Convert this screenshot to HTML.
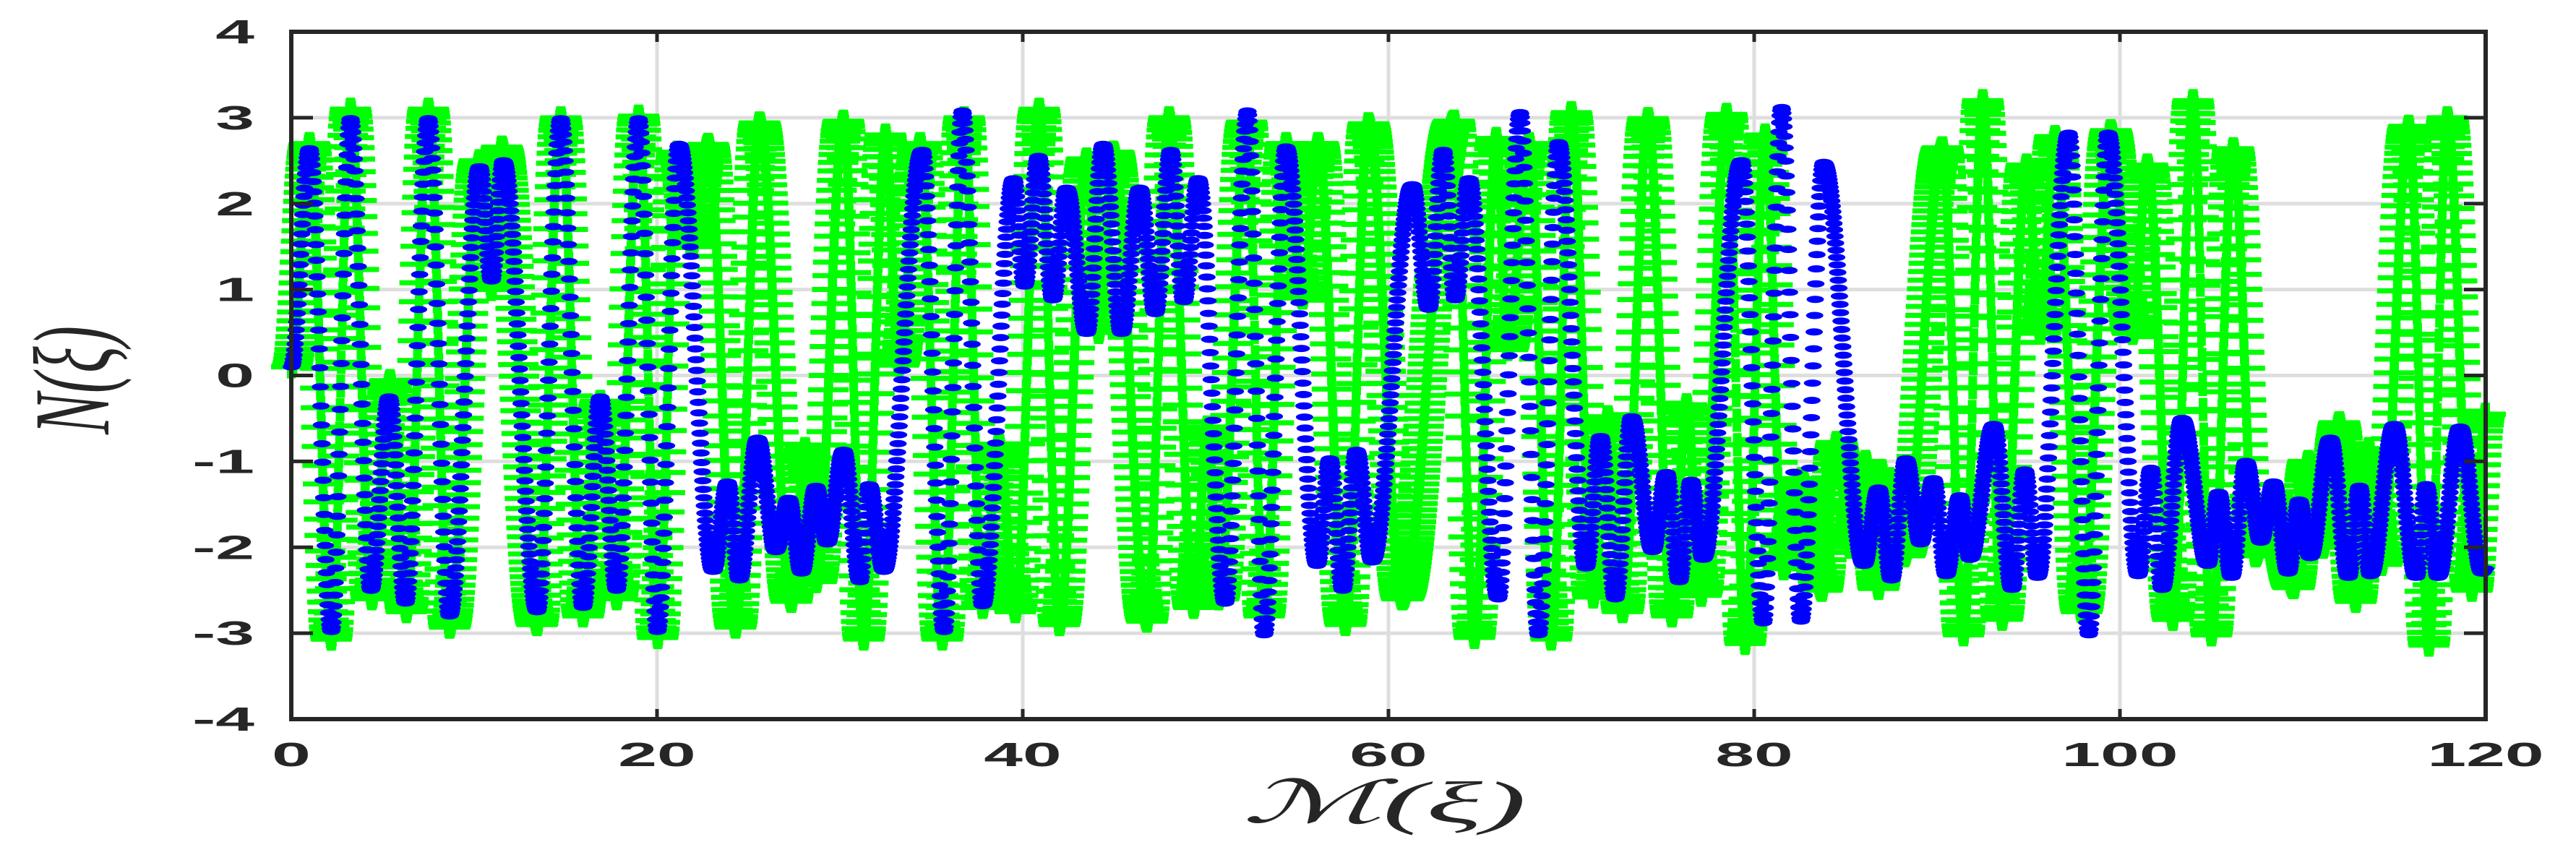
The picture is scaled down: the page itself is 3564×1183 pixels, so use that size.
<!DOCTYPE html>
<html><head><meta charset="utf-8"><style>
html,body{margin:0;padding:0;background:#fff;}
svg{display:block;}
</style></head><body>
<svg id="chart" xmlns="http://www.w3.org/2000/svg" width="3564" height="1183" viewBox="0 0 3564 1183">
<rect x="0" y="0" width="3564" height="1183" fill="#fff"/>
<g id="grid"></g>
<g id="green"></g>
<g id="blue"></g>
<g id="axes"></g>
<text x="1915" y="1138" text-anchor="middle" font-family="'Liberation Serif', 'DejaVu Serif', serif" font-style="italic" font-size="82" fill="#262626" textLength="393" lengthAdjust="spacingAndGlyphs">ℳ(ξ)</text>
<text transform="translate(150,526) rotate(-90)" x="0" y="0" text-anchor="middle" font-family="'Liberation Serif', 'DejaVu Serif', serif" font-style="italic" font-size="150" fill="#262626" textLength="150" lengthAdjust="spacingAndGlyphs">N(ξ)</text>
</svg>
<script>
const blueT=[0,1.0,2.19,3.24,4.35,5.35,6.25,7.5,8.65,10.3,10.95,11.6,13.45,14.74,15.95,16.9,17.8,19.0,20.02,21.2,23.07,23.86,24.5,25.5,26.5,27.2,27.9,28.7,29.3,30.2,31.1,31.6,32.4,34.5,35.7,36.7,37.8,39.5,40.1,40.86,41.65,42.4,43.5,44.4,45.4,46.4,47.25,48.1,48.8,49.6,51.07,52.3,53.2,54.4,56.1,56.8,57.5,58.25,59.1,61.3,62.2,63.0,63.65,64.4,66.0,67.2,68.2,69.3,70.8,71.6,72.4,73.3,74.45,75.2,75.9,76.55,77.2,79.3,80.5,81.5,82.55,83.8,86.0,86.8,87.5,88.3,89.1,89.8,90.5,91.25,91.8,93.1,94.1,94.8,95.5,97.2,98.3,99.35,101.0,101.7,102.3,103.4,104.8,105.4,106.1,106.9,107.7,108.4,109.2,109.8,110.4,111.5,112.5,113.1,113.7,115.0,116.2,116.75,117.4,118.6,119.8,120];
const blueV=[0.1,2.64,-2.98,2.99,-2.5,-0.25,-2.65,2.99,-2.8,2.43,1.1,2.5,-2.75,2.99,-2.7,-0.25,-2.5,2.99,-2.98,2.69,-2.28,-1.24,-2.38,-0.73,-2.05,-1.43,-2.3,-1.29,-1.96,-0.87,-2.4,-1.27,-2.28,2.62,-2.98,3.08,-2.68,2.29,1.04,2.55,0.88,2.18,0.49,2.69,0.49,2.18,0.72,2.62,0.86,2.29,-2.65,3.08,-3.02,2.66,-2.21,-0.97,-2.5,-0.87,-2.17,2.22,0.77,2.62,0.88,2.29,-2.6,3.06,-3.02,2.71,-2.24,-0.71,-2.6,-0.48,-2.05,-1.13,-2.4,-1.22,-2.14,2.5,-2.88,3.12,-2.86,2.48,-2.21,-1.31,-2.38,-0.97,-1.96,-1.2,-2.33,-1.4,-2.14,-0.57,-2.49,-1.1,-2.35,2.82,-3.02,2.82,-2.33,-1.08,-2.49,-0.5,-2.21,-1.36,-2.35,-1.0,-1.94,-1.24,-2.3,-1.45,-2.12,-0.73,-2.35,-1.29,-2.33,-0.57,-2.35,-1.27,-2.35,-0.6,-2.3,-2.25];
const greenT=[0,1.0,2.19,3.24,4.4,5.4,6.3,7.5,8.65,10.3,10.95,11.5,13.45,14.74,15.95,16.9,17.8,19.0,20.04,21.1,21.9,22.8,24.3,25.6,27.35,28.1,28.7,30.2,31.3,32.5,33.2,34.4,35.6,36.8,37.8,38.7,39.6,40.9,42.0,43.5,44.15,44.95,46.8,48.0,49.35,50.1,50.7,52.25,53.2,54.4,55.3,56.15,57.65,58.9,60.75,63.6,64.7,65.9,66.5,67.7,68.9,70.0,71.2,72.0,72.8,74.2,75.5,76.3,77.1,78.5,79.5,80.6,81.6,82.6,83.7,84.5,85.25,86.1,86.8,87.4,88.2,90.3,91.45,92.5,93.55,94.9,95.65,96.45,97.9,99.5,100.7,101.5,102.9,104.0,105.0,106.2,107.4,108.3,109.5,110.3,111.1,112.0,112.9,113.6,114.3,115.8,116.9,117.9,119.25,120];
const greenV=[0.1,2.7,-3.07,3.1,-2.6,-0.06,-2.75,3.1,-2.93,2.5,1.0,2.66,-2.9,3.0,-2.8,-0.3,-2.6,3.02,-3.05,2.6,1.5,2.69,-2.93,2.94,-2.63,-0.85,-2.4,2.96,-3.07,2.8,0.12,2.7,-3.07,3.0,-2.7,-0.8,-2.75,3.1,-2.9,2.52,0.5,2.6,-2.86,3.0,-2.7,-0.6,-2.6,2.95,-2.8,2.7,0.9,2.7,-2.9,2.93,-2.6,2.96,-3.05,2.76,0.3,2.7,-3.07,3.06,-2.58,-0.48,-2.75,2.99,-2.8,-0.34,-2.56,3.04,-3.12,2.8,-2.25,-1.2,-2.5,-0.78,-2.0,-1.0,-2.48,-1.2,-2.1,2.65,-3.02,3.2,-2.84,2.45,0.49,2.78,-2.75,2.85,0.49,2.45,-2.84,3.2,-3.02,2.64,-2.1,-1.4,-2.47,-1.0,-2.0,-0.55,-2.63,-0.85,-2.2,2.9,-3.14,3.0,-2.5,-0.45];
const xTicks=[0,20,40,60,80,100,120];
const yTicks=[-4,-3,-2,-1,0,1,2,3,4];
const yTickLabels=["-4","-3","-2","-1","0","1","2","3","4"];

const NS="http://www.w3.org/2000/svg";
const X0=403,X1=3439,YT=44,YB=995;
const xs=t=>X0+(t-0)*(X1-X0)/120;
const ys=v=>YB-(v+4)*(YB-YT)/8;
function mk(tag,attrs,parent){const e=document.createElementNS(NS,tag);for(const k in attrs)e.setAttribute(k,attrs[k]);parent.appendChild(e);return e;}
const grid=document.getElementById('grid'),axes=document.getElementById('axes');
xTicks.forEach(t=>{if(t>0&&t<120){const l=mk('line',{x1:xs(t),x2:xs(t),y1:YT,y2:YB,stroke:'#dedede','stroke-width':5},grid);

}});
yTicks.forEach(v=>{if(v>-4&&v<4){const l=mk('line',{x1:X0,x2:X1,y1:ys(v),y2:ys(v),stroke:'#dedede','stroke-width':5},grid);

}});
function curve(T,V,t){let i=0;while(i<T.length-2&&T[i+1]<t)i++;const a=T[i],b=T[i+1];let f=(t-a)/(b-a);f=Math.max(0,Math.min(1,f));const g=(1-Math.cos(Math.PI*f))/2;return V[i]+(V[i+1]-V[i])*g;}
const step=0.03;
const gG=document.getElementById('green');
for(let t=0;t<=120.0001;t+=step){const x=xs(t),y=ys(curve(greenT,greenV,t));
const p=mk('path',{d:`M${(x-28).toFixed(1)} ${(y-3.5).toFixed(1)}h56v7h-56zM${(x-6).toFixed(1)} ${(y-16).toFixed(1)}h12v32h-12z`,fill:'#00ff00'},gG);

}
const gB=document.getElementById('blue');
for(let t=0;t<=120.0001;t+=step){const x=xs(t),y=ys(curve(blueT,blueV,t));
const e=mk('ellipse',{cx:x.toFixed(1),cy:y.toFixed(1),rx:12,ry:5,fill:'#0000ff'},gB);

}
const box=mk('rect',{x:X0,y:YT,width:X1-X0,height:YB-YT,fill:'none',stroke:'#262626','stroke-width':6},axes);


yTicks.forEach((v,i)=>{const y=ys(v);
const a=mk('line',{x1:X0,x2:X0+30,y1:y,y2:y,stroke:'#262626','stroke-width':5},axes);


const b=mk('line',{x1:X1-30,x2:X1,y1:y,y2:y,stroke:'#262626','stroke-width':5},axes);


const tx=mk('text',{transform:`translate(352,${y+16}) scale(2.1,1)`,'text-anchor':'end','font-family':"'Liberation Sans', sans-serif",'font-weight':'bold','font-size':46,fill:'#262626'},axes);
tx.textContent=yTickLabels[i];

});
xTicks.forEach(t=>{const x=xs(t);
const a=mk('line',{x1:x,x2:x,y1:YB,y2:YB-14,stroke:'#262626','stroke-width':5},axes);


const b=mk('line',{x1:x,x2:x,y1:YT,y2:YT+14,stroke:'#262626','stroke-width':5},axes);


const tx=mk('text',{transform:`translate(${x},1060) scale(2.1,1)`,'text-anchor':'middle','font-family':"'Liberation Sans', sans-serif",'font-weight':'bold','font-size':46,fill:'#262626'},axes);
tx.textContent=String(t);

});
</script>
</body></html>
